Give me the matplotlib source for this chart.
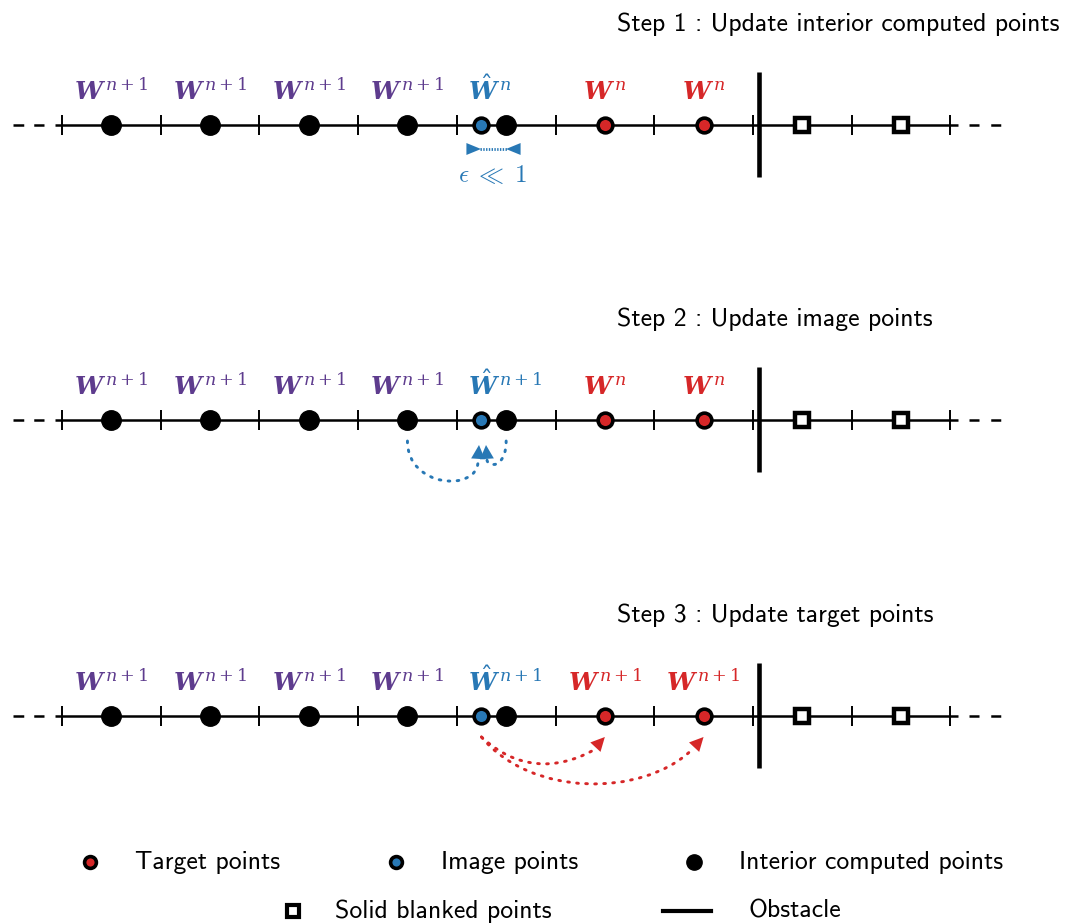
import matplotlib
matplotlib.use("Agg")
import matplotlib.pyplot as plt
from matplotlib.patches import FancyArrowPatch, PathPatch
from matplotlib.path import Path

# ---- data -------------------------------------------------------------
faces = [0, 1, 2, 3, 4, 5, 6, 7, 8, 9]          # cell faces (ticks)
interior_cells = [0.5, 1.5, 2.5, 3.5, 4.5]      # interior computed points
image_x = 4.25                                  # image point (epsilon off cell 4)
target_cells = [5.5, 6.5]                       # target points
blanked_cells = [7.5, 8.5]                      # solid blanked points
obstacle_x = 7.06

step_titles = ["Step 1 : Update interior computed points",
               "Step 2 : Update image points",
               "Step 3 : Update target points"]
interior_labels = [r"$\mathbfit{W}^{\,n+1}$"] * 3
image_labels = [r"$\hat{\mathbfit{W}}^{\,n}$", r"$\hat{\mathbfit{W}}^{\,n+1}$",
                r"$\hat{\mathbfit{W}}^{\,n+1}$"]
target_labels = [r"$\mathbfit{W}^{\,n}$", r"$\mathbfit{W}^{\,n}$",
                 r"$\mathbfit{W}^{\,n+1}$"]

legend_row1 = ["Target points", "Image points", "Interior computed points"]
legend_row2 = ["Solid blanked points", "Obstacle"]

# ---- style ------------------------------------------------------------
PURPLE = "#5e3c8e"
BLUE = "#2878b5"
RED = "#d62728"
TXT_FONT = "cmss10"
TXT_FS = 18.5
LAB_FS = 18

DX = 98.7      # pixels per cell
X0 = 62        # pixel of face 0
W, H = 1067, 923
row_y = [125, 420, 716]


def px(xp):
    # pixel column -> cell units
    return (xp - X0) / DX


def cx(xc):
    # cell units -> pixel column
    return xc * DX + X0


fig = plt.figure(figsize=(W / 100, H / 100), dpi=100)
ax = fig.add_axes([0, 0, 1, 1])
ax.set_xlim(px(0), px(W))
ax.set_ylim(H, 0)
ax.axis("off")


def head(p_from, p_to, color, hl=10, hw=5):
    ax.add_patch(FancyArrowPatch(p_from, p_to, shrinkA=0, shrinkB=0,
                                 arrowstyle=f"-|>,head_length={hl},head_width={hw}",
                                 color=color, lw=0, zorder=6))


def dotted(verts, color, lw=2.1):
    codes = [Path.MOVETO] + [Path.CURVE4] * (len(verts) - 1)
    ax.add_patch(PathPatch(Path(verts, codes), fill=False, edgecolor=color,
                           lw=lw, ls=(0, (0.6, 2.5)), capstyle="round",
                           zorder=5))


def draw_row(y, step):
    # dashed continuation and solid line
    ax.plot([px(12.5), px(44)], [y, y], color="k", lw=1.8, ls=(0, (4.3, 4.0)),
            dash_capstyle="butt")
    ax.plot([px(969), px(1001)], [y, y], color="k", lw=1.8, ls=(0, (4.0, 4.7)),
            dash_capstyle="butt")
    ax.plot([px(55), px(958)], [y, y], color="k", lw=1.8, zorder=1,
            solid_capstyle="butt")
    ax.vlines(faces, y - 10, y + 10, color="k", lw=1.4, zorder=1)
    # obstacle
    ax.vlines(obstacle_x, y - 53, y + 52, color="k", lw=3.3, zorder=2)
    # points
    ax.plot(interior_cells, [y] * len(interior_cells), "o", ms=14,
            color="k", zorder=3)
    ax.plot(target_cells, [y] * len(target_cells), "o", ms=10.6,
            mfc=RED, mec="k", mew=2.6, zorder=3)
    ax.plot([image_x], [y], "o", ms=10.6, mfc=BLUE, mec="k", mew=2.6,
            zorder=4)
    ax.plot(blanked_cells, [y] * len(blanked_cells), "s", ms=9.6,
            mfc="white", mec="k", mew=3.2, zorder=3)
    # labels
    ly = y - 25
    for xc in interior_cells[:4]:
        ax.text(xc, ly, interior_labels[step], color=PURPLE, fontsize=LAB_FS,
                ha="center", va="baseline", math_fontfamily="dejavuserif")
    ax.text(px(468), ly, image_labels[step], color=BLUE, fontsize=LAB_FS,
            ha="left", va="baseline", math_fontfamily="dejavuserif")
    for xc in target_cells:
        ax.text(xc, ly, target_labels[step], color=RED, fontsize=LAB_FS,
                ha="center", va="baseline", math_fontfamily="dejavuserif")
    ax.text(px(617), y - 101, step_titles[step], fontsize=TXT_FS,
            family=TXT_FONT, ha="left", va="center")


for i, y in enumerate(row_y):
    draw_row(y, i)

# step 1: epsilon gap
y = row_y[0] + 24
ax.plot([px(480), px(507)], [y, y], color=BLUE, lw=2, ls=(0, (0.5, 0.5)))
head((px(466), y), (px(481), y), BLUE, hl=10.5, hw=4.3)
head((px(521), y), (px(506), y), BLUE, hl=10.5, hw=4.3)
ax.text(px(492), y + 26, r"$\epsilon \;\ll\; 1$", color=BLUE, fontsize=18,
        ha="center", va="center", math_fontfamily="cm")

# step 2: interior -> image (dotted arcs + solid heads)
y = row_y[1]
x_int = interior_cells[3]
x_int2 = interior_cells[4]
dotted([(x_int, y + 21), (x_int, y + 68), (px(477), y + 72), (px(478), y + 42)],
       BLUE)
dotted([(x_int2, y + 21), (x_int2, y + 48), (px(488), y + 48), (px(487), y + 40)],
       BLUE)
head((px(478), y + 40), (px(479), y + 25), BLUE)
head((px(487), y + 40), (px(486), y + 25), BLUE)

# step 3: image -> targets
y = row_y[2]
for xt, dip, spread in [(target_cells[0], 54, 0.36), (target_cells[1], 81, 0.5)]:
    xe = px(cx(xt) - 13)
    dotted([(image_x, y + 21), (image_x + spread, y + dip),
            (xe - spread, y + dip), (xe, y + 35)], RED)
    head((xe, y + 35), (xt, y + 21), RED)

# ---- legend -----------------------------------------------------------
ly1, ly2 = 862, 911
lx1 = [px(90), px(396), px(694)]
ax.plot([lx1[0]], [ly1], "o", ms=8.5, mfc=RED, mec="k", mew=2.6)
ax.plot([lx1[1]], [ly1], "o", ms=8.5, mfc=BLUE, mec="k", mew=2.6)
ax.plot([lx1[2]], [ly1], "o", ms=11, color="k")
for xp, lab in zip(lx1, legend_row1):
    ax.text(xp + 0.46, ly1, lab, fontsize=TXT_FS, family=TXT_FONT,
            ha="left", va="center")

lx2 = [px(293), px(687)]
ax.plot([lx2[0]], [ly2], "s", ms=8, mfc="white", mec="k", mew=3.0)
ax.plot([lx2[1] - 0.24, lx2[1] + 0.24], [ly2, ly2], color="k", lw=3)
ax.text(lx2[0] + 0.43, ly2, legend_row2[0], fontsize=TXT_FS, family=TXT_FONT,
        ha="left", va="center")
ax.text(lx2[1] + 0.62, ly2, legend_row2[1], fontsize=TXT_FS, family=TXT_FONT,
        ha="left", va="center")

fig.savefig("out.png", dpi=100)
